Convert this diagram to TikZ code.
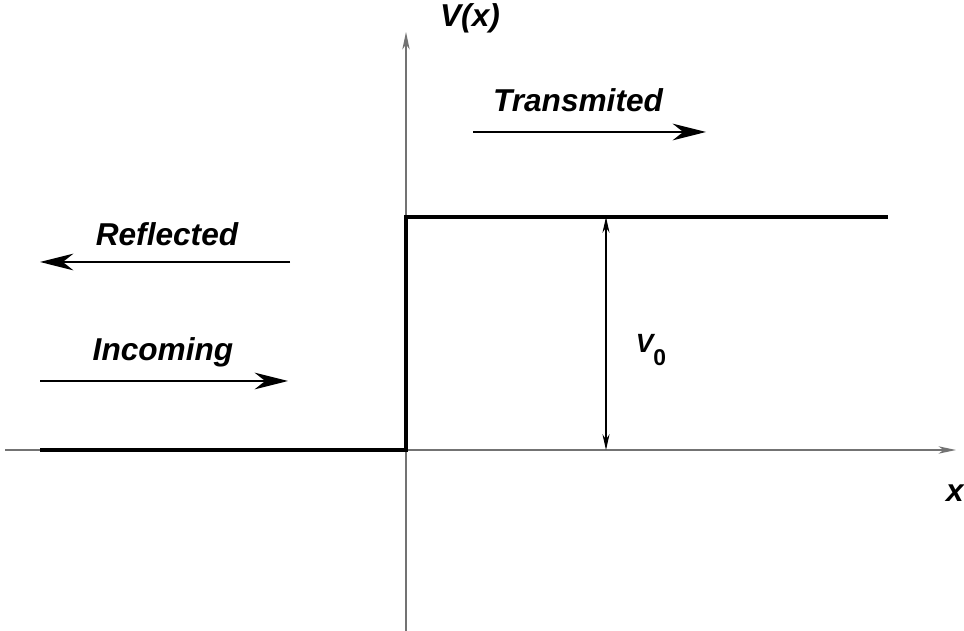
\documentclass[tikz,border=0pt]{standalone}
\usepackage{fontspec}
\setmainfont{Liberation Sans}
\usetikzlibrary{arrows.meta}
\definecolor{axis-gray}{gray}{0.45}
\tikzstyle{axisline}=[axis-gray,line width=0.7pt,-{Stealth[length=10pt,width=4.2pt,inset=3pt]}]
\tikzstyle{potential}=[black,line width=2pt,line join=miter]
\tikzstyle{wavearrow}=[black,line width=0.8pt,-{Stealth[length=19pt,width=9.5pt,inset=6pt]}]
\tikzstyle{heightarrow}=[black,line width=0.6pt,{Stealth[length=9pt,width=4pt,inset=3pt]}-{Stealth[length=9pt,width=4pt,inset=3pt]}]
\tikzstyle{lbl}=[font=\fontsize{18}{22}\selectfont\bfseries\itshape,inner sep=0pt]

\begin{document}
\begin{tikzpicture}[x=0.02cm,y=-0.02cm]
\useasboundingbox (0,0) rectangle (964,631);
	% axes
	\coordinate (xstart) at (5,450);
	\coordinate (xend) at (956,450);
	\coordinate (ystart) at (406,631);
	\coordinate (yend) at (406,32);
	\draw[axisline] (xstart) -- (xend);
	\draw[axisline] (ystart) -- (yend);
	\node[lbl] (xlabel) at (955,493) {x};
	\node[lbl] (vlabel) at (470,18) {V(x)};
	% step potential
	\coordinate (left) at (40,450);
	\coordinate (step) at (406,450);
	\coordinate (top) at (406,217);
	\coordinate (right) at (888,217);
	\draw[potential] (left) -- (step) -- (top) -- (right);
	% height of the step
	\coordinate (hightop) at (606,217);
	\coordinate (highbottom) at (606,450);
	\draw[heightarrow] (hightop) -- (highbottom);
	\node[lbl,font=\fontsize{15}{18}\selectfont\bfseries\itshape] (vzero) at (651,350) {V\raisebox{-0.5em}{\fontsize{13}{16}\selectfont\upshape 0}};
	% waves
	\node[lbl] (trans) at (578,100) {Transmited};
	\coordinate (transA) at (473,132);
	\coordinate (transB) at (706,132);
	\draw[wavearrow] (transA) -- (transB);
	\node[lbl] (refl) at (167,234) {Reflected};
	\coordinate (reflA) at (290,262);
	\coordinate (reflB) at (40,262);
	\draw[wavearrow] (reflA) -- (reflB);
	\node[lbl] (inc) at (163,352) {Incoming};
	\coordinate (incA) at (40,381);
	\coordinate (incB) at (288,381);
	\draw[wavearrow] (incA) -- (incB);
\end{tikzpicture}
\end{document}
